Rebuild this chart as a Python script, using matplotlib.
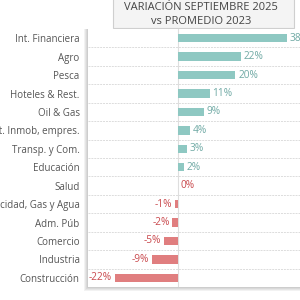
import matplotlib
matplotlib.use("Agg")
from matplotlib import pyplot as plt
from matplotlib.patches import Rectangle

plt.rcParams['font.family'] = ['Open Sans', 'DejaVu Sans']

# data
sectores = ["Int. Financiera", "Agro", "Pesca", "Hoteles & Rest.", "Oil & Gas",
            "Act. Inmob, empres.", "Transp. y Com.", "Educación", "Salud",
            "Electricidad, Gas y Agua", "Adm. Púb", "Comercio", "Industria",
            "Construcción"]
variacion = [38, 22, 20, 11, 9, 4, 3, 2, 0, -1, -2, -5, -9, -22]

teal = "#8ec8c2"
red = "#e07e7f"
teal_txt = "#6fa9a4"
red_txt = "#c9484c"

W = H = 300.0
fig = plt.figure(figsize=(3, 3), dpi=100)
fig.patch.set_facecolor("white")

def px(x0, y0, w, h):
    # pixel box (top-left origin) -> figure fraction
    return [x0 / W, 1 - (y0 + h) / H, w / W, h / H]

# title box
tb = px(113, -2, 181, 30)
fig.patches.append(Rectangle((tb[0], tb[1]), tb[2], tb[3], transform=fig.transFigure,
                             facecolor="#f4f4f4", edgecolor="#cfcfcf", lw=0.8, zorder=0))
fig.text(201 / W, 1 - 8 / H, "VARIACIÓN SEPTIEMBRE 2025", ha="center", va="center",
         fontsize=8.0, color="#444444")
fig.text(201 / W, 1 - 21 / H, "vs PROMEDIO 2023", ha="center", va="center",
         fontsize=8.0, color="#444444")

# panel shadow
for i in range(4):
    s = i + 1
    b = px(88 - s, 29, 212 + s, 258 + s)
    fig.patches.append(Rectangle((b[0], b[1]), b[2], b[3], transform=fig.transFigure,
                                 facecolor="black", alpha=0.05, lw=0, zorder=1))

ax = fig.add_axes(px(88, 29, 212, 258))
ax.set_facecolor("white")
ax.set_zorder(2)
n = len(sectores)
ax.set_xlim(-31.4, 42.5)
ax.set_ylim(n - 0.5, -0.5)

y = list(range(n))
colors = [teal if v > 0 else red for v in variacion]
ax.barh(y, variacion, height=0.45, color=colors, zorder=3)
ax.axvline(0, color="#dedede", lw=0.8, zorder=2)
for i in range(n - 1):
    ax.axhline(i + 0.5, color="#dcdcdc", lw=0.7, ls=(0, (2, 1)), zorder=1)

for yi, v in zip(y, variacion):
    if v > 0:
        ax.text(v + 1.0, yi, f"{v}%", ha="left", va="center", fontsize=7.3,
                color=teal_txt)
    elif v == 0:
        ax.text(v + 1.0, yi, f"{v}%", ha="left", va="center", fontsize=7.3,
                color=red_txt)
    else:
        ax.text(v - 1.0, yi, f"{v}%", ha="right", va="center", fontsize=7.3,
                color=red_txt)

ax.set_xticks([])
ax.set_yticks(y)
ax.set_yticklabels(sectores, fontsize=7.0, color="#555555")
ax.tick_params(axis="y", length=0, pad=6)
for s in ax.spines.values():
    s.set_visible(False)

fig.savefig("out.png", dpi=100, facecolor="white")
